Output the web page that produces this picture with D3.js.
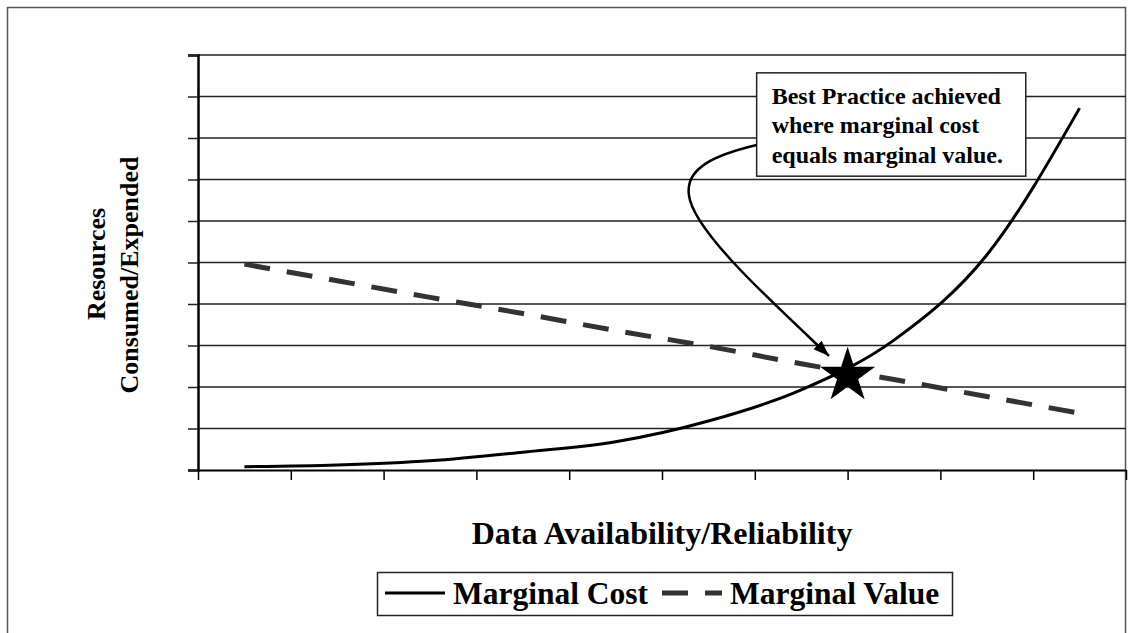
<!DOCTYPE html>
<html>
<head>
<meta charset="utf-8">
<script src="https://cdn.jsdelivr.net/npm/d3@7"></script>
<style>
  html, body { margin: 0; padding: 0; background: #fff; }
  svg { display: block; }
  text { font-family: 'Liberation Serif', 'Times New Roman', serif; font-weight: bold; fill: #000; }
</style>
</head>
<body>
<div id="chart"></div>
<script>
// values (y in % of axis, x = category slot)
const categories = [1, 2, 3, 4, 5, 6, 7, 8, 9, 10];
const marginalCost = [0.8, 1.2, 2.2, 4.3, 6.8, 11.8, 19.3, 31.3, 51.8, 87.2];
const marginalValue = [49.6, 45.6, 41.6, 37.7, 33.6, 29.8, 25.6, 21.8, 17.7, 13.7];
const yTicks = [0, 10, 20, 30, 40, 50, 60, 70, 80, 90, 100];
const seriesNames = ['Marginal Cost', 'Marginal Value'];
const yTitleLines = ['Resources', 'Consumed/Expended'];
const xTitle = 'Data Availability/Reliability';
const calloutLines = ['Best Practice achieved', 'where marginal cost', 'equals marginal value.'];
// where the curves meet (slot boundary 7, value)
const bestPoint = { pos: 7.0, value: 22.7 };

const width = 1133;
const height = 633;
const plot = { left: 198, right: 1126, top: 55, bottom: 470 };

const svg = d3.select('#chart')
    .append('svg')
    .attr('width', width)
    .attr('height', height);

// outer chart border
svg.append('rect')
    .attr('x', 7.5).attr('y', 7.5)
    .attr('width', 1118).attr('height', 630)
    .attr('fill', 'none')
    .attr('stroke', '#555')
    .attr('stroke-width', 1.5);

const x = d3.scaleLinear()
    .domain([0, categories.length])
    .range([plot.left, plot.right]);

const y = d3.scaleLinear()
    .domain([0, 100])
    .range([plot.bottom, plot.top]);

const xc = i => x(i + 0.5); // center of a category slot

// gridlines
svg.append('g')
    .selectAll('line')
    .data(yTicks.slice(1))
    .enter()
    .append('line')
    .attr('x1', plot.left).attr('x2', plot.right)
    .attr('y1', d => y(d)).attr('y2', d => y(d))
    .attr('stroke', '#222')
    .attr('stroke-width', 1.5);

// y axis with outward ticks, no labels
const yAxis = svg.append('g')
    .attr('transform', `translate(${plot.left},0)`)
    .call(d3.axisLeft(y).tickValues(yTicks).tickSize(10).tickFormat(''));
yAxis.select('.domain').attr('stroke', '#000').attr('stroke-width', 2.5);
yAxis.selectAll('.tick line').attr('stroke', '#222').attr('stroke-width', 1.5);

// x axis, ticks between categories
const xAxis = svg.append('g')
    .attr('transform', `translate(0,${plot.bottom})`)
    .call(d3.axisBottom(x).tickValues(d3.range(0, categories.length + 1)).tickSize(10).tickSizeOuter(0).tickFormat(''));
xAxis.select('.domain').attr('stroke', '#000').attr('stroke-width', 2);
xAxis.selectAll('.tick line').attr('stroke', '#000').attr('stroke-width', 1.5);

// series
const seriesLine = d3.line()
    .x((d, i) => xc(i))
    .y(d => y(d))
    .curve(d3.curveMonotoneX);

svg.append('path')
    .datum(marginalValue)
    .attr('d', seriesLine)
    .attr('fill', 'none')
    .attr('stroke', '#333')
    .attr('stroke-width', 5)
    .attr('stroke-dasharray', '26,17');

svg.append('path')
    .datum(marginalCost)
    .attr('d', seriesLine)
    .attr('fill', 'none')
    .attr('stroke', '#000')
    .attr('stroke-width', 3);

// star where the curves cross
svg.append('path')
    .attr('d', d3.symbol(d3.symbolStar, 944)())
    .attr('transform', `translate(${x(bestPoint.pos)},${y(bestPoint.value)})`)
    .attr('fill', '#000');

// callout box
const box = { x0: 6.02, x1: 8.92, top: 95.7, bottom: 70.8 };
svg.append('rect')
    .attr('x', x(box.x0)).attr('y', y(box.top))
    .attr('width', x(box.x1) - x(box.x0))
    .attr('height', y(box.bottom) - y(box.top))
    .attr('fill', '#fff')
    .attr('stroke', '#222')
    .attr('stroke-width', 1.5);

svg.append('g')
    .selectAll('text')
    .data(calloutLines)
    .enter()
    .append('text')
    .attr('x', x(box.x0) + 15)
    .attr('y', (d, i) => y(box.top) + 31 + i * 29.5)
    .attr('font-size', 24)
    .text(d => d);

// curved arrow from callout to star
svg.append('defs').append('marker')
    .attr('id', 'head')
    .attr('markerUnits', 'userSpaceOnUse')
    .attr('viewBox', '0 0 16 12')
    .attr('refX', 16).attr('refY', 6)
    .attr('markerWidth', 16).attr('markerHeight', 12)
    .attr('orient', 'auto')
    .append('path')
    .attr('d', 'M0,0L16,6L0,12Z')
    .attr('fill', '#000');

const arrowPts = [[6.02, 78.3], [5.57, 75.9], [5.25, 72.8], [5.29, 66.3], [5.33, 57.8], [6.16, 41.0], [6.80, 27.5]]
    .map(p => [x(p[0]), y(p[1])]);
const ap = d3.path();
ap.moveTo(...arrowPts[0]);
ap.bezierCurveTo(...arrowPts[1], ...arrowPts[2], ...arrowPts[3]);
ap.bezierCurveTo(...arrowPts[4], ...arrowPts[5], ...arrowPts[6]);
svg.append('path')
    .attr('d', ap.toString())
    .attr('fill', 'none')
    .attr('stroke', '#000')
    .attr('stroke-width', 2.5)
    .attr('marker-end', 'url(#head)');

// axis titles
const yTitleCenters = [264, 275];
yTitleLines.forEach((line, i) => {
    svg.append('text')
        .attr('transform', `translate(${105 + i * 33},${yTitleCenters[i]}) rotate(-90)`)
        .attr('text-anchor', 'middle')
        .attr('font-size', 26)
        .text(line);
});

svg.append('text')
    .attr('x', (plot.left + plot.right) / 2)
    .attr('y', 544)
    .attr('text-anchor', 'middle')
    .attr('font-size', 32)
    .text(xTitle);

// legend
const legend = svg.append('g');
legend.append('rect')
    .attr('x', 377.5).attr('y', 572.5)
    .attr('width', 575).attr('height', 43)
    .attr('fill', '#fff')
    .attr('stroke', '#222')
    .attr('stroke-width', 1.5);

const legendItems = [
    { name: seriesNames[0], x: 385, stroke: '#000', w: 3, dash: null },
    { name: seriesNames[1], x: 662, stroke: '#333', w: 5, dash: '26,17' }
];
legendItems.forEach(it => {
    legend.append('line')
        .attr('x1', it.x).attr('x2', it.x + 60)
        .attr('y1', 593).attr('y2', 593)
        .attr('stroke', it.stroke)
        .attr('stroke-width', it.w)
        .attr('stroke-dasharray', it.dash);
    legend.append('text')
        .attr('x', it.x + 68)
        .attr('y', 604)
        .attr('font-size', 31.5)
        .text(it.name);
});
</script>
</body>
</html>
